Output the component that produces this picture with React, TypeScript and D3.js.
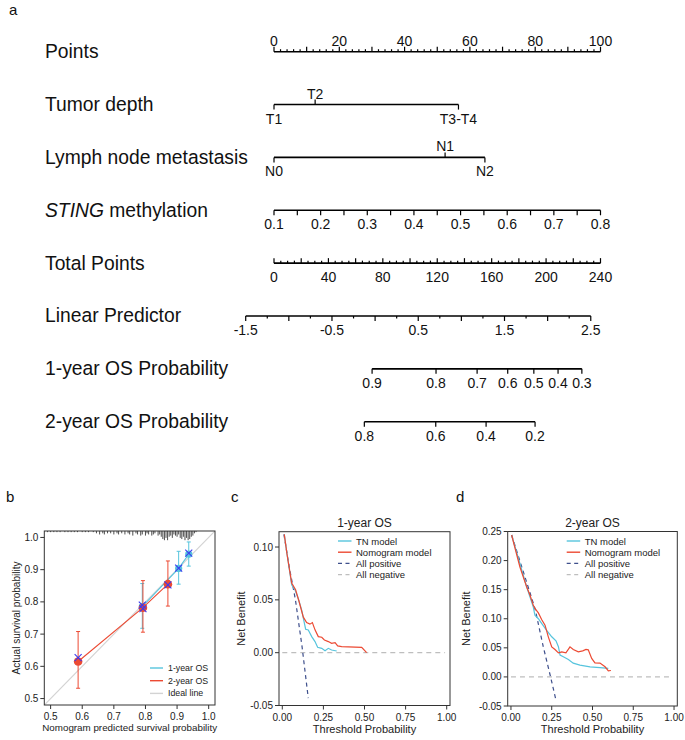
import React from "react";
import * as d3 from "d3";

const FONT = "'Liberation Sans', Arial, Helvetica, sans-serif";

// ---------- a: nomogram ----------
const rowLabels = [
  "Points",
  "Tumor depth",
  "Lymph node metastasis",
  "STING methylation",
  "Total Points",
  "Linear Predictor",
  "1-year OS Probability",
  "2-year OS Probability",
];

const tumorLevels = ["T1", "T2", "T3-T4"];
const tumorPoints = [0, 12.6, 56.5];
const tumorAbove = [false, true, false];

const lymphLevels = ["N0", "N1", "N2"];
const lymphPoints = [0, 52.4, 64.6];
const lymphAbove = [false, true, false];

const stingRange = [0.1, 0.8];
const stingLabels = [0.1, 0.2, 0.3, 0.4, 0.5, 0.6, 0.7, 0.8];

const lpRange = [-1.5, 2.5];
const lpLabels = [-1.5, -0.5, 0.5, 1.5, 2.5];
const lpAtZeroPoints = -1.172;
const lpPerPoint = 0.01577;

const os1Labels = ["0.9", "0.8", "0.7", "0.6", "0.5", "0.4", "0.3"];
const os1Total = [72.1, 119.1, 149.3, 171.8, 191.0, 208.8, 226.3];
const os2Labels = ["0.8", "0.6", "0.4", "0.2"];
const os2Total = [66.4, 118.9, 155.9, 191.9];

// ---------- b: calibration ----------
const cal1Pred = [0.79, 0.905, 0.937];
const cal1Obs = [0.785, 0.904, 0.948];
const cal1Lo = [0.718, 0.855, 0.911];
const cal1Hi = [0.857, 0.957, 0.986];
const cal1Corr = [0.79, 0.905, 0.951];

const cal2Pred = [0.587, 0.792, 0.871];
const cal2Obs = [0.615, 0.782, 0.855];
const cal2Lo = [0.532, 0.706, 0.787];
const cal2Hi = [0.708, 0.866, 0.927];
const cal2Corr = [0.627, 0.779, 0.853];

// predicted probability, count (rug along the top)
const rug: [number, number][] = [
  [0.49, 1], [0.5, 1], [0.51, 1], [0.52, 1], [0.53, 1], [0.545, 1], [0.555, 1],
  [0.565, 1], [0.575, 1], [0.585, 1], [0.6, 1], [0.61, 1], [0.62, 1], [0.635, 1],
  [0.645, 2], [0.655, 3], [0.665, 2], [0.67, 3], [0.68, 2], [0.69, 2], [0.7, 3],
  [0.71, 2], [0.715, 3], [0.725, 2], [0.735, 3], [0.745, 2], [0.75, 3], [0.76, 4],
  [0.77, 2], [0.775, 3], [0.785, 4], [0.79, 3], [0.8, 4], [0.805, 2], [0.81, 3],
  [0.82, 4], [0.825, 3], [0.83, 2], [0.84, 4], [0.845, 3], [0.85, 5], [0.855, 7],
  [0.86, 8], [0.865, 6], [0.87, 8], [0.875, 5], [0.88, 4], [0.885, 6], [0.89, 3],
  [0.895, 4], [0.9, 5], [0.905, 3], [0.91, 6], [0.915, 7], [0.92, 5], [0.925, 8],
  [0.93, 6], [0.935, 8], [0.94, 7], [0.945, 5], [0.95, 4], [0.955, 2], [0.96, 1],
];

// ---------- c / d: decision curves ----------
const dca1AllPositive = [[0.01, 0.112], [0.04, 0.083], [0.08, 0.05], [0.12, 0.006], [0.158, -0.043]];
const dca1Nomogram = [
  [0.012, 0.112], [0.03, 0.092], [0.057, 0.066], [0.081, 0.0595], [0.102, 0.0484],
  [0.128, 0.0336], [0.148, 0.0285], [0.168, 0.027], [0.183, 0.0285], [0.199, 0.0216],
  [0.219, 0.0152], [0.24, 0.0146], [0.256, 0.012], [0.28, 0.0105], [0.3, 0.0089],
  [0.321, 0.0095], [0.337, 0.0064], [0.361, 0.0057], [0.483, 0.0051], [0.513, 0],
];
const dca1TN = [
  [0.012, 0.112], [0.03, 0.092], [0.057, 0.0643], [0.077, 0.0595], [0.097, 0.0513],
  [0.118, 0.0402], [0.142, 0.0222], [0.158, 0.0215], [0.179, 0.0152], [0.199, 0.0105],
  [0.215, 0.0051], [0.24, 0.0041], [0.26, 0.0019], [0.28, 0.0041], [0.3, 0.0025],
  [0.331, 0.0016],
];

const dca2AllPositive = [[0.004, 0.244], [0.08, 0.177], [0.147, 0.118], [0.198, 0.052], [0.243, 0], [0.276, -0.04]];
const dca2Nomogram = [
  [0.004, 0.244], [0.055, 0.189], [0.096, 0.155], [0.117, 0.1405], [0.137, 0.123],
  [0.147, 0.1177], [0.168, 0.11], [0.188, 0.0988], [0.209, 0.089], [0.229, 0.0689],
  [0.25, 0.0517], [0.27, 0.0472], [0.291, 0.0414], [0.312, 0.0431], [0.337, 0.0414],
  [0.362, 0.0517], [0.382, 0.0472], [0.413, 0.0431], [0.44, 0.0448], [0.46, 0.0472],
  [0.474, 0.0465], [0.495, 0.0318], [0.515, 0.0242], [0.546, 0.0237], [0.577, 0.0174],
  [0.597, 0.0105], [0.613, 0.011],
];
const dca2TN = [
  [0.004, 0.244], [0.096, 0.155], [0.137, 0.12], [0.147, 0.106], [0.168, 0.1],
  [0.188, 0.092], [0.219, 0.08], [0.25, 0.069], [0.276, 0.062], [0.291, 0.052],
  [0.301, 0.0375], [0.321, 0.0346], [0.352, 0.03], [0.382, 0.0237], [0.423, 0.0203],
  [0.485, 0.0174], [0.546, 0.016], [0.597, 0.0146],
];
const dcaAllNegative = [[0, 0], [0.99, 0]];

const CYAN = "#56C4DD";
const RED = "#EC4A33";
const NAVY = "#3E4F8C";
const GREY = "#BEBEBE";
const INK = "#222";

type Tick = { x: number; len: number; up: boolean; label?: string };

const NomoRow: React.FC<{ y: number; ticks: Tick[] }> = ({ y, ticks }) => {
  const xs = ticks.map((t) => t.x);
  return (
    <g>
      <line x1={d3.min(xs)} x2={d3.max(xs)} y1={y} y2={y} stroke="#000" strokeWidth={1.6} />
      {ticks.map((t, i) => (
        <g key={i}>
          <line x1={t.x} x2={t.x} y1={y} y2={t.up ? y - t.len : y + t.len} stroke="#000" strokeWidth={1.2} />
          {t.label !== undefined && (
            <text x={t.x} y={t.up ? y - 6 : y + 19} textAnchor="middle" fontSize={14}>
              {t.label}
            </text>
          )}
        </g>
      ))}
    </g>
  );
};

const Nomogram: React.FC = () => {
  const pointsX = d3.scaleLinear([0, 100], [274, 600.5]);
  const totalX = d3.scaleLinear([0, 240], [274, 600.5]);
  const stingToPoints = d3.scaleLinear(stingRange, [0, 100]);
  const rowY = d3.scaleLinear([0, 7], [51.7, 421.7]);
  const lpX = (v: number) => totalX((v - lpAtZeroPoints) / lpPerPoint);

  const pointTicks: Tick[] = d3.range(0, 101, 2).map((v) => ({
    x: pointsX(v),
    len: v % 10 === 0 ? 5 : 2.5,
    up: true,
    label: v % 20 === 0 ? String(v) : undefined,
  }));
  const tumorTicks: Tick[] = tumorLevels.map((l, i) => ({
    x: pointsX(tumorPoints[i]), len: 5, up: tumorAbove[i], label: l,
  }));
  const lymphTicks: Tick[] = lymphLevels.map((l, i) => ({
    x: pointsX(lymphPoints[i]), len: 5, up: lymphAbove[i], label: l,
  }));
  const stingTicks: Tick[] = d3.range(0, 15).map((i) => {
    const v = stingRange[0] + i * 0.05;
    const lab = stingLabels.find((s) => Math.abs(s - v) < 1e-6);
    return { x: pointsX(stingToPoints(v)), len: 5, up: false, label: lab !== undefined ? lab.toFixed(1) : undefined };
  });
  const totalTicks: Tick[] = d3.range(0, 241, 5).map((v) => ({
    x: totalX(v),
    len: v % 20 === 0 ? 5 : 2.5,
    up: true,
    label: undefined,
  }));
  const totalLabels = d3.range(0, 241, 40);
  const lpTicks: Tick[] = d3.range(0, 17).map((i) => {
    const v = lpRange[0] + i * 0.25;
    const lab = lpLabels.find((s) => Math.abs(s - v) < 1e-6);
    return { x: lpX(v), len: i % 2 === 0 ? 5 : 2.5, up: false, label: lab !== undefined ? String(lab) : undefined };
  });
  const os1Ticks: Tick[] = os1Labels.map((l, i) => ({ x: totalX(os1Total[i]), len: 5, up: false, label: l }));
  const os2Ticks: Tick[] = os2Labels.map((l, i) => ({ x: totalX(os2Total[i]), len: 5, up: false, label: l }));

  return (
    <g fill="#111">
      <text x={9} y={15} fontSize={15}>a</text>
      {rowLabels.map((r, i) => (
        <text key={r} x={45} y={rowY(i) + 6.5} fontSize={19.3}>
          {i === 3 ? (
            <>
              <tspan fontStyle="italic">STING</tspan> methylation
            </>
          ) : (
            r
          )}
        </text>
      ))}
      <NomoRow y={rowY(0)} ticks={pointTicks} />
      <NomoRow y={rowY(1)} ticks={tumorTicks} />
      <NomoRow y={rowY(2)} ticks={lymphTicks} />
      <NomoRow y={rowY(3)} ticks={stingTicks} />
      <NomoRow y={rowY(4)} ticks={totalTicks} />
      {totalLabels.map((v) => (
        <text key={v} x={totalX(v)} y={rowY(4) + 18.5} textAnchor="middle" fontSize={14}>
          {v}
        </text>
      ))}
      <NomoRow y={rowY(5)} ticks={lpTicks} />
      <NomoRow y={rowY(6)} ticks={os1Ticks} />
      <NomoRow y={rowY(7)} ticks={os2Ticks} />
    </g>
  );
};

const Calibration: React.FC = () => {
  const x = d3.scaleLinear([0.48, 1.02], [44.3, 215]);
  const y = d3.scaleLinear([0.48, 1.02], [705, 531]);
  const ticks = [0.5, 0.6, 0.7, 0.8, 0.9, 1.0];
  const line = d3.line<number>();
  const series = [
    { pred: cal1Pred, obs: cal1Obs, lo: cal1Lo, hi: cal1Hi, color: CYAN, r: 3.6 },
    { pred: cal2Pred, obs: cal2Obs, lo: cal2Lo, hi: cal2Hi, color: RED, r: 4.3 },
  ];
  const corrected = [
    ...cal1Pred.map((p, i) => [p, cal1Corr[i]]),
    ...cal2Pred.map((p, i) => [p, cal2Corr[i]]),
  ];
  const [x0, x1] = x.range();
  const [y0, y1] = y.range();
  return (
    <g fontSize={10} fill={INK}>
      <text x={6} y={502} fontSize={15} fill="#111">b</text>
      <defs>
        <clipPath id="calclip">
          <rect x={x0} y={y1} width={x1 - x0} height={y0 - y1} />
        </clipPath>
      </defs>
      <line
        x1={x(0.48)} y1={y(0.48)} x2={x(1.02)} y2={y(1.02)}
        stroke="#D3D3D3" strokeWidth={1.2} clipPath="url(#calclip)"
      />
      {rug.map(([p, n], i) => (
        <line key={i} x1={x(p)} x2={x(p)} y1={y1} y2={y1 + n * 1.15} stroke="#222" strokeWidth={0.8} />
      ))}
      {series.map((s, k) => (
        <g key={k}>
          {s.pred.map((p, i) => (
            <g key={i} stroke={s.color} strokeWidth={1}>
              <line x1={x(p)} x2={x(p)} y1={y(s.lo[i])} y2={y(s.hi[i])} />
              <line x1={x(p) - 2} x2={x(p) + 2} y1={y(s.lo[i])} y2={y(s.lo[i])} />
              <line x1={x(p) - 2} x2={x(p) + 2} y1={y(s.hi[i])} y2={y(s.hi[i])} />
            </g>
          ))}
          <path
            d={line(s.pred.map((p, i) => [x(p), y(s.obs[i])])) || ""}
            fill="none" stroke={s.color} strokeWidth={1.1}
          />
          {s.pred.map((p, i) => (
            <circle key={i} cx={x(p)} cy={y(s.obs[i])} r={s.r} fill={s.color} />
          ))}
        </g>
      ))}
      {corrected.map(([p, c], i) => (
        <g key={i} stroke="#3A3AF0" strokeWidth={1.1}>
          <line x1={x(p) - 3.5} x2={x(p) + 3.5} y1={y(c) - 3.5} y2={y(c) + 3.5} />
          <line x1={x(p) - 3.5} x2={x(p) + 3.5} y1={y(c) + 3.5} y2={y(c) - 3.5} />
        </g>
      ))}
      <rect x={x0} y={y1} width={x1 - x0} height={y0 - y1} fill="none" stroke="#333" strokeWidth={1} />
      {ticks.map((t) => (
        <g key={t}>
          <line x1={x0 - 4} x2={x0} y1={y(t)} y2={y(t)} stroke="#333" />
          <text x={x0 - 6} y={y(t) + 3.5} textAnchor="end">{t.toFixed(1)}</text>
          <line x1={x(t)} x2={x(t)} y1={y0} y2={y0 + 4} stroke="#333" />
          <text x={x(t)} y={y0 + 15} textAnchor="middle">{t.toFixed(1)}</text>
        </g>
      ))}
      <text x={(x0 + x1) / 2} y={731} textAnchor="middle" fontSize={9.8}>Nomogram predicted survival probability</text>
      <text transform={`translate(20,${(y0 + y1) / 2}) rotate(-90)`} textAnchor="middle">
        Actual survival probability
      </text>
      {[
        { c: CYAN, t: "1-year OS" },
        { c: RED, t: "2-year OS" },
        { c: "#D3D3D3", t: "Ideal line" },
      ].map((d, i) => (
        <g key={d.t}>
          <line x1={150} x2={163} y1={668 + i * 12.7} y2={668 + i * 12.7} stroke={d.c} strokeWidth={1.4} />
          <text x={168} y={671 + i * 12.7} fontSize={8.8}>{d.t}</text>
        </g>
      ))}
    </g>
  );
};

type DcaProps = {
  letter: string;
  letterX: number;
  title: string;
  xRange: [number, number];
  yDomain: [number, number];
  yRange: [number, number];
  yTicks: number[];
  ytitleX: number;
  tn: number[][];
  nomo: number[][];
  allPos: number[][];
};

const DcaPanel: React.FC<DcaProps> = (p) => {
  const x = d3.scaleLinear([-0.02, 1.02], p.xRange);
  const y = d3.scaleLinear(p.yDomain, p.yRange);
  const line = d3.line<number[]>().x((d) => x(d[0])).y((d) => y(d[1]));
  const [x0, x1] = x.range();
  const [y0, y1] = y.range();
  const xTicks = [0, 0.25, 0.5, 0.75, 1];
  const lx = x0 + 59;
  const legend = [
    { t: "TN model", c: CYAN, dash: undefined as string | undefined, w: 1.4 },
    { t: "Nomogram model", c: RED, dash: undefined, w: 1.4 },
    { t: "All positive", c: NAVY, dash: "4,3.5", w: 1.2 },
    { t: "All negative", c: GREY, dash: "4,3.5", w: 1.2 },
  ];
  return (
    <g fontSize={10} fill={INK}>
      <text x={p.letterX} y={502} fontSize={15} fill="#111">{p.letter}</text>
      <text x={(x0 + x1) / 2} y={527} textAnchor="middle" fontSize={12}>{p.title}</text>
      <path d={line(dcaAllNegative) || ""} fill="none" stroke={GREY} strokeWidth={1.2} strokeDasharray="5,4" />
      <path d={line(p.allPos) || ""} fill="none" stroke={NAVY} strokeWidth={1.2} strokeDasharray="4,3.5" />
      <path d={line(p.tn) || ""} fill="none" stroke={CYAN} strokeWidth={1.2} />
      <path d={line(p.nomo) || ""} fill="none" stroke={RED} strokeWidth={1.2} />
      <rect x={x0} y={y1} width={x1 - x0} height={y0 - y1} fill="none" stroke="#333" strokeWidth={1} />
      {p.yTicks.map((t) => (
        <g key={t}>
          <line x1={x0 - 4} x2={x0} y1={y(t)} y2={y(t)} stroke="#333" />
          <text x={x0 - 6} y={y(t) + 3.5} textAnchor="end">{t.toFixed(2)}</text>
        </g>
      ))}
      {xTicks.map((t) => (
        <g key={t}>
          <line x1={x(t)} x2={x(t)} y1={y0} y2={y0 + 4} stroke="#333" />
          <text x={x(t)} y={y0 + 15} textAnchor="middle">{t.toFixed(2)}</text>
        </g>
      ))}
      <text x={(x0 + x1) / 2} y={733} textAnchor="middle" fontSize={11}>Threshold Probability</text>
      <text transform={`translate(${p.ytitleX},${(y0 + y1) / 2}) rotate(-90)`} textAnchor="middle" fontSize={11}>
        Net Benefit
      </text>
      {legend.map((d, i) => (
        <g key={d.t}>
          <line x1={lx} x2={lx + 13.5} y1={541 + i * 11.2} y2={541 + i * 11.2} stroke={d.c} strokeWidth={d.w} strokeDasharray={d.dash} />
          <text x={lx + 18} y={544.5 + i * 11.2} fontSize={9.5}>{d.t}</text>
        </g>
      ))}
    </g>
  );
};

export default function App() {
  return (
    <svg
      width={685}
      height={740}
      style={{ position: "absolute", left: 0, top: 0, background: "#fff", fontFamily: FONT }}
    >
      <rect width={685} height={740} fill="#fff" />
      <Nomogram />
      <Calibration />
      <DcaPanel
        letter="c" letterX={231} title="1-year OS"
        xRange={[279, 450]} yDomain={[-0.05, 0.1145]} yRange={[705.5, 531.7]}
        yTicks={[-0.05, 0, 0.05, 0.1]} ytitleX={245}
        tn={dca1TN} nomo={dca1Nomogram} allPos={dca1AllPositive}
      />
      <DcaPanel
        letter="d" letterX={456} title="2-year OS"
        xRange={[507.7, 677.3]} yDomain={[-0.05, 0.25]} yRange={[706, 531.5]}
        yTicks={[-0.05, 0, 0.05, 0.1, 0.15, 0.2, 0.25]} ytitleX={470}
        tn={dca2TN} nomo={dca2Nomogram} allPos={dca2AllPositive}
      />
    </svg>
  );
}
